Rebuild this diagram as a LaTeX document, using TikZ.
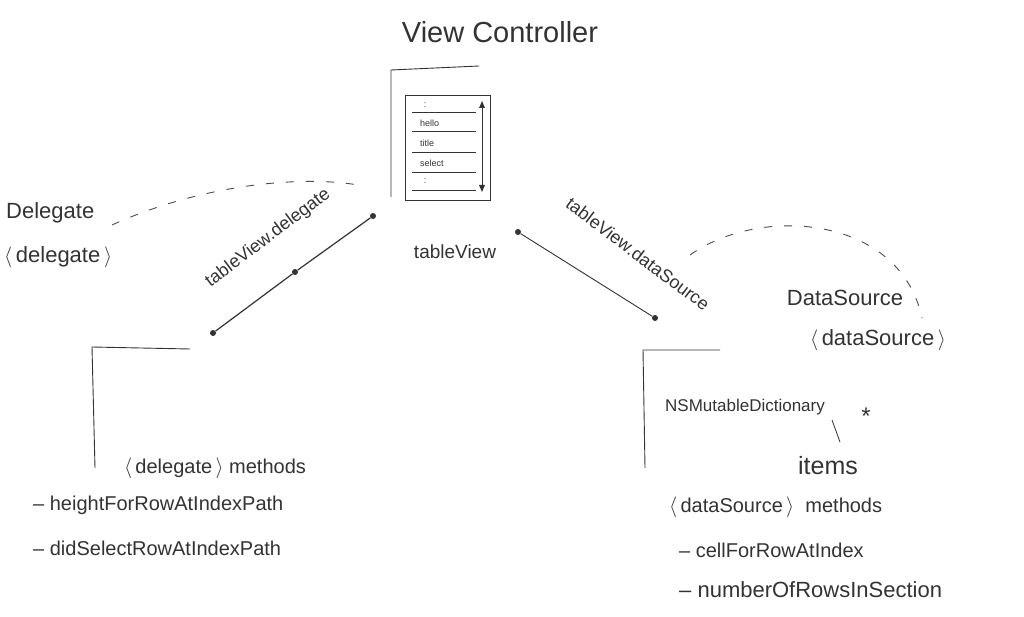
\documentclass[tikz,border=0pt]{standalone}
\usepackage{fontspec}
\setmainfont{Liberation Sans}
\begin{document}
\begin{tikzpicture}[x=1pt,y=-1pt,
  ink/.style={draw=black!80,line width=0.9pt},
  txt/.style={text=black!80,font=\fontsize{22}{24}\selectfont,inner sep=1pt},
  small/.style={text=black!80,font=\fontsize{9}{10}\selectfont,inner sep=0pt},
  dot/.style={circle,fill=black!80,inner sep=0pt,minimum size=6pt},
  dashline/.style={draw=black!70,line width=0.9pt,dash pattern=on 8pt off 12pt}]
\fill[white!95!black!3] (0,0) rectangle (1024,617);
\useasboundingbox (0,0) rectangle (1024,617);
\clip (0,0) rectangle (1024,617);
% title
\node[txt,font=\fontsize{29}{31}\selectfont] (vc) at (500,32) {View Controller};
% phone
\draw[ink] (479,66) -- (391,70) -- (391,197);
\draw[ink] (405,95) rectangle (490,200);
\foreach \yy in {112,131,152,172,190}
  \draw[ink,line width=0.6pt] (412,\yy) -- (476,\yy);
\node[small] at (425,105) {:};
\node[small,anchor=west] (h) at (420,123) {hello};
\node[small,anchor=west] (t) at (420,143) {title};
\node[small,anchor=west] (s) at (420,163) {select};
\node[small] at (425,181) {:};
\draw[ink,line width=0.7pt] (482,103) -- (482,190);
\fill[black!80] (479,108) -- (485,108) -- (482,101) -- cycle;
\fill[black!80] (479,185) -- (485,185) -- (482,192) -- cycle;
% delegate side
\node[txt,anchor=west] (del) at (5,213) {Delegate};
\node[txt,anchor=west] (deli) at (3,257) {$\langle$\,delegate\,$\rangle$};
\draw[dashline] (112,225) .. controls (200,185) and (300,175) .. (358,185);
\node[dot] (d1) at (373,216) {};
\node[dot] (d2) at (295,272) {};
\node[dot] (d3) at (213,333) {};
\draw[ink,line width=1.2pt] (d1) -- (d2) -- (d3);
\node[txt,font=\fontsize{18}{20}\selectfont,rotate=37] (tvd) at (268,238) {tableView.delegate};
\node[txt,font=\fontsize{19}{21}\selectfont] (tv) at (455,252) {tableView};
% data source side
\node[dot] (s1) at (518,232) {};
\node[dot] (s2) at (655,318) {};
\draw[ink] (s1) -- (s2);
\node[txt,font=\fontsize{18}{20}\selectfont,rotate=-37] (tvs) at (638,254) {tableView.dataSource};
\draw[dashline] (690,255) .. controls (760,205) and (900,215) .. (922,318);
\node[txt] (ds) at (845,298) {DataSource};
\node[txt] (dsi) at (878,340) {$\langle$\,dataSource\,$\rangle$};
% left bracket
\draw[ink] (190,349) -- (92,347) -- (95,468);
\node[txt,font=\fontsize{20}{22}\selectfont] (dm) at (215,468) {$\langle$\,delegate\,$\rangle$ methods};
\node[txt,font=\fontsize{20}{22}\selectfont,anchor=west] (m1) at (32,505) {– heightForRowAtIndexPath};
\node[txt,font=\fontsize{20}{22}\selectfont,anchor=west] (m2) at (32,548) {– didSelectRowAtIndexPath};
% right bracket
\draw[ink] (720,350) -- (643,350) -- (645,468);
\node[txt,font=\fontsize{17}{19}\selectfont,anchor=west] (nsd) at (664,407) {NSMutableDictionary};
\node[txt,font=\fontsize{24}{26}\selectfont] (star) at (866,416) {*};
\draw[ink,line width=0.8pt] (832,420) -- (840,442);
\node[txt,font=\fontsize{25}{27}\selectfont] (it) at (828,466) {items};
\node[txt,font=\fontsize{20}{22}\selectfont,anchor=west] (dsm) at (668,507) {$\langle$\,dataSource\,$\rangle$ \ methods};
\node[txt,font=\fontsize{20}{22}\selectfont,anchor=west] (m3) at (678,550) {– cellForRowAtIndex};
\node[txt,font=\fontsize{22}{24}\selectfont,anchor=west] (m4) at (678,590) {– numberOfRowsInSection};
\end{tikzpicture}
\end{document}
